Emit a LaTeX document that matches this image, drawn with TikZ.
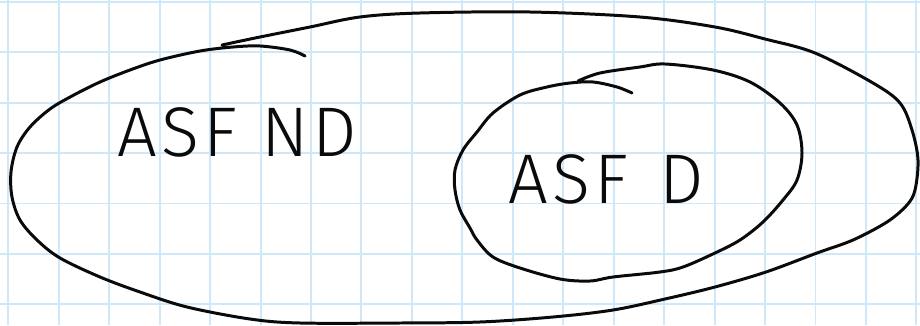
\documentclass[tikz,border=0pt]{standalone}
\usepackage{fontspec}
\usepackage{tikz}
\usetikzlibrary{positioning}
\newfontfamily\handfont[LetterSpace=6]{Fira Sans Light}
\definecolor{gridblue}{RGB}{206,232,250}
\definecolor{pen}{RGB}{10,10,10}

\begin{document}
\begin{tikzpicture}[
  x=0.02cm,y=-0.02cm,
  gridline/.style={draw=gridblue,line width=1.1pt},
  penline/.style={draw=pen,line width=1.7pt,line cap=round,line join=round},
  hand/.style={font=\handfont\fontsize{40}{40}\selectfont,text=pen,inner sep=0pt},
]
  \useasboundingbox (0,0) rectangle (920,325);
  \fill[white] (0,0) rectangle (920,325);
  % squared paper
  \foreach \k in {0,...,18}
    \draw[gridline] ({8.3+50.45*\k},0) -- ({8.3+50.45*\k},325);
  \foreach \k in {0,...,6}
    \draw[gridline] (0,{1.7+50.45*\k}) -- (920,{1.7+50.45*\k});

  % outer loop, pen overlaps at the top left
  \draw[penline] plot[smooth,tension=0.55] coordinates {
    (222,45) (260,37) (310,27) (360,17) (420,13) (530,12) (640,17)
    (715,27) (765,39) (815,53) (873,83) (900,103) (912,130) (918,160)
    (915,190) (907,205) (887,222) (853,240) (817,253) (766,272) (715,287)
    (665,299) (613,310) (553,317) (480,322) (400,323) (300,323) (250,319)
    (187,307) (140,292) (100,277) (60,258) (37,240) (20,220) (12,197)
    (11,172) (17,147) (30,127) (50,109) (72,96) (100,82) (130,70)
    (160,60) (200,51) (233,47) (260,46) (290,50) (305,56)};

  % inner loop
  \draw[penline] plot[smooth,tension=0.55] coordinates {
    (578,81) (600,73) (640,67) (665,64) (713,70) (750,82) (780,103)
    (797,125) (802,153) (797,180) (783,200) (763,222) (740,240) (715,253)
    (683,267) (660,272) (613,277) (590,281) (560,279) (520,268) (493,257)
    (477,240) (470,228) (460,210) (455,190) (455,170) (463,150) (477,132)
    (493,113) (520,95) (547,87) (570,83) (593,82) (617,87) (632,93)};

  \node[hand,anchor=base west] (nd) at (117,156) {ASF ND};
  \node[hand,anchor=base west] (d) at (508,203) {ASF\hspace{0.45em}D};
\end{tikzpicture}
\end{document}
